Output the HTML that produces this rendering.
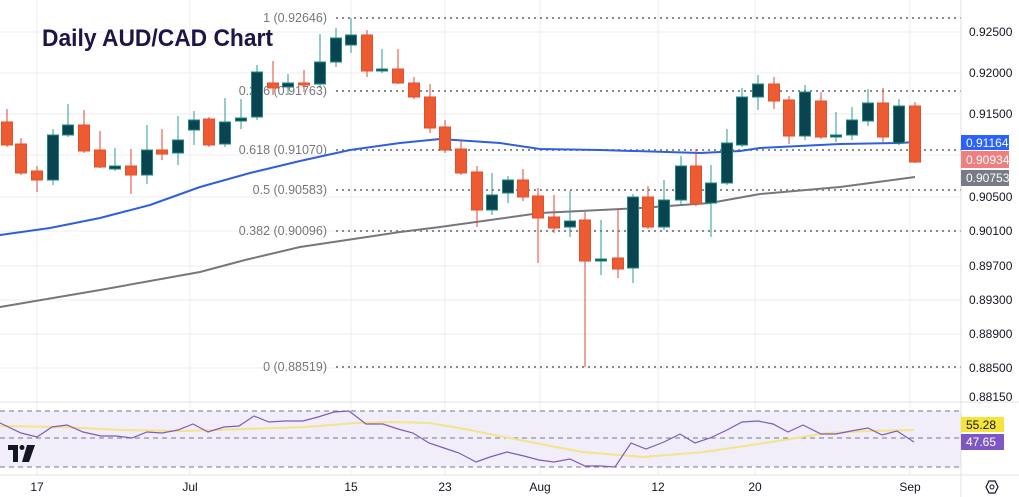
<!DOCTYPE html>
<html><head><meta charset="utf-8"><style>
body{margin:0;background:#fff;width:1019px;height:497px;overflow:hidden;font-family:"Liberation Sans",sans-serif}
svg{display:block}
</style></head><body>
<svg width="1019" height="497" viewBox="0 0 1019 497" xmlns="http://www.w3.org/2000/svg" font-family="Liberation Sans, sans-serif">
<rect width="1019" height="497" fill="#fff"/>
<g stroke="#eeeef0" stroke-width="1">
<line x1="0" y1="32" x2="961" y2="32"/><line x1="0" y1="73" x2="961" y2="73"/><line x1="0" y1="114" x2="961" y2="114"/><line x1="0" y1="155" x2="961" y2="155"/><line x1="0" y1="197" x2="961" y2="197"/><line x1="0" y1="231" x2="961" y2="231"/><line x1="0" y1="266" x2="961" y2="266"/><line x1="0" y1="300" x2="961" y2="300"/><line x1="0" y1="334" x2="961" y2="334"/><line x1="0" y1="368" x2="961" y2="368"/>
<line x1="37" y1="0" x2="37" y2="475"/><line x1="190" y1="0" x2="190" y2="475"/><line x1="351" y1="0" x2="351" y2="475"/><line x1="445" y1="0" x2="445" y2="475"/><line x1="540" y1="0" x2="540" y2="475"/><line x1="658" y1="0" x2="658" y2="475"/><line x1="755" y1="0" x2="755" y2="475"/><line x1="910" y1="0" x2="910" y2="475"/>
</g>
<g stroke="#8a8a8e" stroke-width="2" stroke-dasharray="2,4">
<line x1="336" y1="18" x2="961" y2="18"/><line x1="336" y1="91" x2="961" y2="91"/><line x1="336" y1="150" x2="961" y2="150"/><line x1="336" y1="190" x2="961" y2="190"/><line x1="336" y1="231" x2="961" y2="231"/><line x1="336" y1="367" x2="961" y2="367"/>
</g>
<g font-size="12.5" fill="#77777b" text-anchor="end">
<text x="327" y="22">1 (0.92646)</text><text x="327" y="95">0.236 (0.91763)</text><text x="327" y="154">0.618 (0.91070)</text><text x="327" y="194">0.5 (0.90583)</text><text x="327" y="235">0.382 (0.90096)</text><text x="327" y="371">0 (0.88519)</text>
</g>
<polyline fill="none" stroke="#77767c" stroke-width="2" points="0,307 100,290 200,272 245,260 300,247 400,232 440,227 540,213 640,208 710,203 760,194 840,187 915,177"/>
<polyline fill="none" stroke="#2f5fe0" stroke-width="2" points="0,235 50,228 100,218 150,205 200,187 250,173 300,161 350,150 400,143 440,139 500,143 540,149 600,150 700,153 740,151 760,148 840,144 900,143 915,142"/>
<path fill="none" stroke="#e0453a" stroke-width="1" d="M7 109V147M21 138V175M37 166V192M84 110V153M100 131V168M131 149V194M162 129V160M209 117V147M273 61V95M304 70V92M367 30V77M398 49V84M414 77V99M430 84V133M445 120V153M461 140V175M477 166V227M523 169V201M538 188V263M554 195V233M585 212V367M618 209V278M648 186V229M696 149V206M774 77V109M789 96V144M821 92V139M883 88V142M915 102V163"/>
<g fill="#ec5b32" stroke="#e0502e" stroke-width="1">
<rect x="1.5" y="122" width="11" height="23"/><rect x="15.5" y="144" width="11" height="29"/><rect x="31.5" y="171" width="11" height="9"/><rect x="78.5" y="125" width="11" height="26"/><rect x="94.5" y="150" width="11" height="17"/><rect x="125.5" y="166" width="11" height="9"/><rect x="156.5" y="150" width="11" height="4"/><rect x="203.5" y="119" width="11" height="26"/><rect x="267.5" y="83" width="11" height="5"/><rect x="298.5" y="83" width="11" height="2"/><rect x="361.5" y="35" width="11" height="36"/><rect x="392.5" y="69" width="11" height="14"/><rect x="408.5" y="83" width="11" height="14"/><rect x="424.5" y="97" width="11" height="31"/><rect x="439.5" y="127" width="11" height="23"/><rect x="455.5" y="149" width="11" height="24"/><rect x="471.5" y="172" width="11" height="38"/><rect x="517.5" y="180" width="11" height="17"/><rect x="532.5" y="196" width="11" height="22"/><rect x="548.5" y="217" width="11" height="11"/><rect x="579.5" y="220" width="11" height="41"/><rect x="612.5" y="258" width="11" height="11"/><rect x="642.5" y="197" width="11" height="30"/><rect x="690.5" y="166" width="11" height="38"/><rect x="768.5" y="84" width="11" height="17"/><rect x="783.5" y="100" width="11" height="36"/><rect x="815.5" y="101" width="11" height="36"/><rect x="877.5" y="103" width="11" height="34"/><rect x="909.5" y="106" width="11" height="56"/>
</g>
<path fill="none" stroke="#2a9d8f" stroke-width="1" d="M53 129V185M68 104V137M115 148V171M147 125V184M178 116V165M194 111V145M225 98V147M241 99V129M257 65V120M288 74V95M320 34V88M336 28V67M351 18V53M382 49V73M492 173V215M508 176V203M570 191V237M601 220V275M633 194V283M664 180V230M681 156V206M711 165V237M727 129V185M742 88V147M758 75V110M805 85V140M836 112V142M852 107V140M868 89V126M899 99V145"/>
<g fill="#0a4451" stroke="#1e8a80" stroke-width="1">
<rect x="47.5" y="135" width="11" height="45"/><rect x="62.5" y="125" width="11" height="10"/><rect x="109.5" y="166" width="11" height="3"/><rect x="141.5" y="150" width="11" height="25"/><rect x="172.5" y="140" width="11" height="13"/><rect x="188.5" y="120" width="11" height="10"/><rect x="219.5" y="122" width="11" height="22"/><rect x="235.5" y="118" width="11" height="3"/><rect x="251.5" y="72" width="11" height="45"/><rect x="282.5" y="83" width="11" height="4"/><rect x="314.5" y="62" width="11" height="22"/><rect x="330.5" y="38" width="11" height="24"/><rect x="345.5" y="35" width="11" height="10"/><rect x="376.5" y="69" width="11" height="2"/><rect x="486.5" y="195" width="11" height="15"/><rect x="502.5" y="180" width="11" height="13"/><rect x="564.5" y="221" width="11" height="6"/><rect x="595.5" y="259" width="11" height="2"/><rect x="627.5" y="197" width="11" height="71"/><rect x="658.5" y="200" width="11" height="27"/><rect x="675.5" y="166" width="11" height="34"/><rect x="705.5" y="183" width="11" height="20"/><rect x="721.5" y="143" width="11" height="40"/><rect x="736.5" y="97" width="11" height="48"/><rect x="752.5" y="84" width="11" height="13"/><rect x="799.5" y="92" width="11" height="44"/><rect x="830.5" y="135" width="11" height="2"/><rect x="846.5" y="120" width="11" height="15"/><rect x="862.5" y="103" width="11" height="18"/><rect x="893.5" y="106" width="11" height="37"/>
</g>
<text x="42" y="46" font-size="24" font-weight="bold" fill="#1e1446" textLength="231" lengthAdjust="spacingAndGlyphs">Daily AUD/CAD Chart</text>
<line x1="0" y1="402" x2="1019" y2="402" stroke="#e0e0e3"/>
<rect x="0" y="411" width="961" height="56" fill="#f1eefa"/>
<g stroke="#7b7786" stroke-dasharray="5,4" stroke-width="1">
<line x1="0" y1="411" x2="961" y2="411"/><line x1="0" y1="438" x2="961" y2="438"/><line x1="0" y1="467" x2="961" y2="467"/>
</g>
<polyline fill="none" stroke="#f3e38a" stroke-width="2" points="0,426 61,427 122,430 184,431 245,429 306,427 355,423 392,422 429,423 459,428 520,440 582,452 643,457 704,452 765,443 827,433 870,431 914,430"/>
<polyline fill="none" stroke="#7e5cb8" stroke-width="1.2" points="0,423 21,433 37,437 52,427 67,425 83,432 101,436 116,436 132,438 147,432 162,433 178,430 193,424 208,432 224,427 239,426 254,416 269,422 285,421 303,421 318,417 334,412 349,411 366,424 383,424 398,429 413,433 429,443 444,448 459,453 476,462 490,457 507,452 524,456 539,460 554,462 570,459 585,466 600,466 615,467 631,443 646,449 664,442 680,434 695,443 710,438 727,430 742,422 758,421 773,424 788,432 803,425 821,434 836,434 851,431 868,428 882,435 897,431 914,442"/>
<g fill="#131722"><rect x="8" y="445" width="10" height="5"/><rect x="13" y="445" width="5" height="17"/><circle cx="22" cy="447.5" r="2.5"/><polygon points="27,445 35,445 29,462 22,462"/></g>
<line x1="961" y1="0" x2="961" y2="497" stroke="#e0e0e3"/>
<line x1="0" y1="475" x2="1019" y2="475" stroke="#e0e0e3"/>
<g font-size="12" fill="#131722">
<text x="969" y="36">0.92500</text><text x="969" y="77">0.92000</text><text x="969" y="118">0.91500</text><text x="969" y="201">0.90500</text><text x="969" y="235">0.90100</text><text x="969" y="270">0.89700</text><text x="969" y="304">0.89300</text><text x="969" y="338">0.88900</text><text x="969" y="372">0.88500</text><text x="969" y="401">0.88150</text>
</g>
<rect x="961" y="135" width="48" height="15" fill="#2962ff"/><text x="966" y="147" font-size="12" fill="#fff">0.91164</text>
<rect x="961" y="151" width="48" height="17" fill="#f08080"/><text x="966" y="164" font-size="12" fill="#fff">0.90934</text>
<rect x="961" y="170" width="48" height="16" fill="#787b86"/><text x="966" y="182" font-size="12" fill="#fff">0.90753</text>
<rect x="961" y="417" width="43" height="15" fill="#f5e43a"/><text x="966" y="429" font-size="12" fill="#131722">55.28</text>
<rect x="961" y="434" width="43" height="16" fill="#7e57c2"/><text x="966" y="446" font-size="12" fill="#fff">47.65</text>
<g font-size="12" fill="#131722" text-anchor="middle">
<text x="37" y="491">17</text><text x="190" y="491">Jul</text><text x="351" y="491">15</text><text x="445" y="491">23</text><text x="540" y="491">Aug</text><text x="658" y="491">12</text><text x="755" y="491">20</text><text x="910" y="491">Sep</text>
</g>
<polygon points="986,487 989,481 995,481 998,487 995,493 989,493" fill="none" stroke="#131722" stroke-width="1.2"/><circle cx="992" cy="487" r="2" fill="none" stroke="#131722"/>
</svg>
</body></html>
